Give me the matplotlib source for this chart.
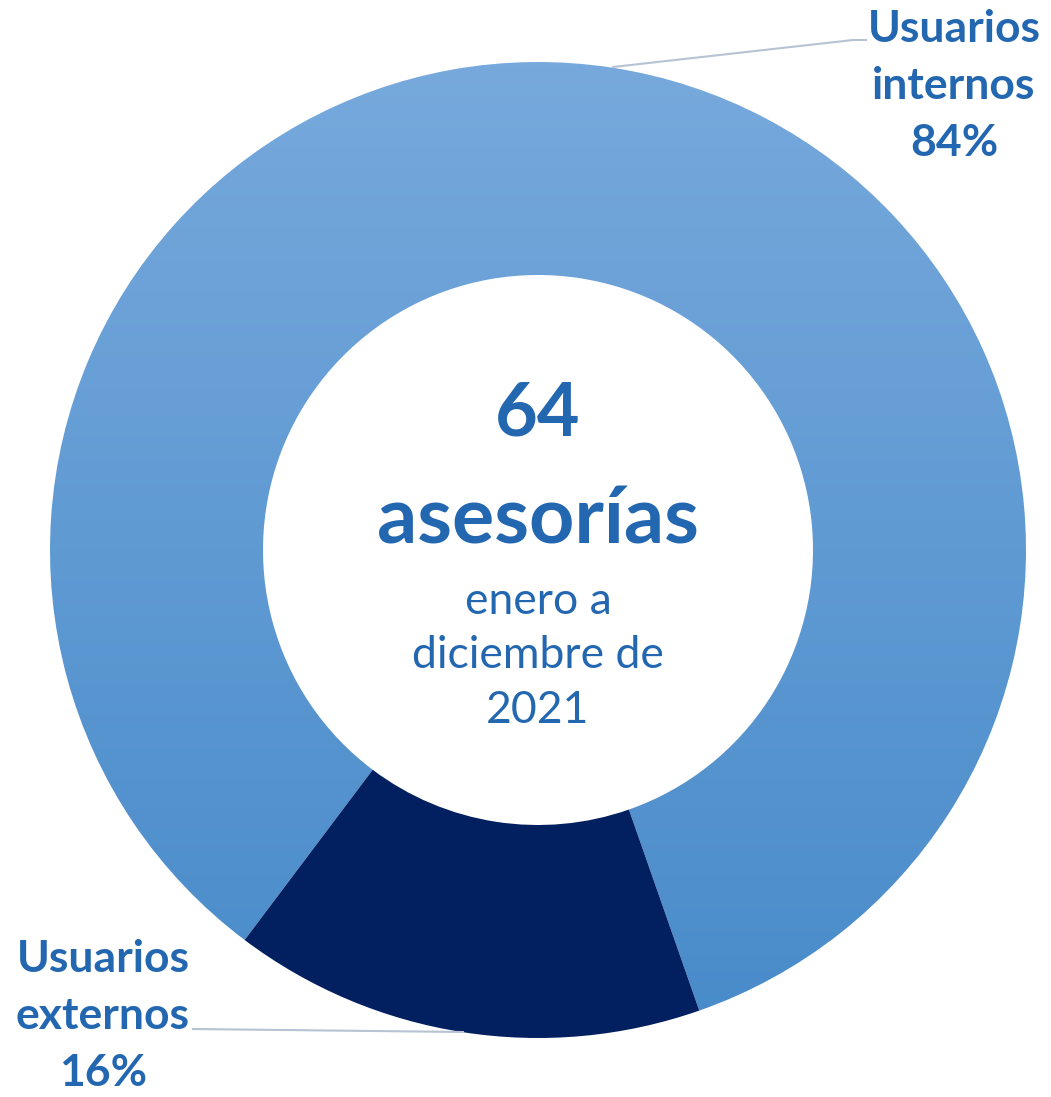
import numpy as np
import matplotlib.pyplot as plt

# asesorías enero a diciembre de 2021
labels = ['Usuarios\ninternos', 'Usuarios\nexternos']
counts = [54, 10]
total = 64

W, H = 1051, 1097
blue_txt = '#2467B1'
dark = '#021F5F'

plt.rcParams['font.family'] = ['Lato', 'DejaVu Sans']

fig = plt.figure(figsize=(W / 100, H / 100), dpi=100)
ax = fig.add_axes([0, 0, 1, 1])

cx, cy = 538, H - 550
R, ring = 488, 213

wedges, _ = ax.pie(counts, startangle=289.3, counterclock=True,
                   colors=['none', dark], center=(cx, cy), radius=R,
                   wedgeprops=dict(width=ring, linewidth=0), frame=True)

# vertical gradient on the internal slice
top = np.array([0x77, 0xA9, 0xDC]) / 255
bot = np.array([0x48, 0x8B, 0xCA]) / 255
t = np.linspace(0, 1, 256)[:, None]
grad = (top * (1 - t) + bot * t)[:, None, :]
im = ax.imshow(grad, extent=(cx - R, cx + R, cy - R, cy + R), origin='upper',
               aspect='auto', zorder=0.5)
im.set_clip_path(wedges[0])

ax.set_xlim(0, W)
ax.set_ylim(0, H)
ax.set_aspect('equal')
ax.axis('off')

pct = [round(c / total * 100) for c in counts]

# leader lines
ax.plot([613, 853, 866], [H - 67, H - 40, H - 40], color='#B7C3D2', lw=1.5)
ax.plot([193, 463], [H - 1029, H - 1032], color='#B7C3D2', lw=1.5)

ax.text(954, H - 86, f'{labels[0]}\n{pct[0]}%', ha='center', va='center',
        fontsize=32, fontweight='bold', color=blue_txt, linespacing=1.5)
ax.text(103, H - 1016, f'{labels[1]}\n{pct[1]}%', ha='center', va='center',
        fontsize=32, fontweight='bold', color=blue_txt, linespacing=1.5)

ax.text(cx, H - 414, str(total), ha='center', va='center', fontsize=53,
        fontweight='bold', color=blue_txt)
ax.text(cx, H - 522, 'asesorías', ha='center', va='center', fontsize=57,
        fontweight='bold', color=blue_txt)
ax.text(cx, H - 656, 'enero a\ndiciembre de\n2021', ha='center', va='center',
        fontsize=32, color=blue_txt, linespacing=1.4)

fig.savefig('out.png', dpi=100)
